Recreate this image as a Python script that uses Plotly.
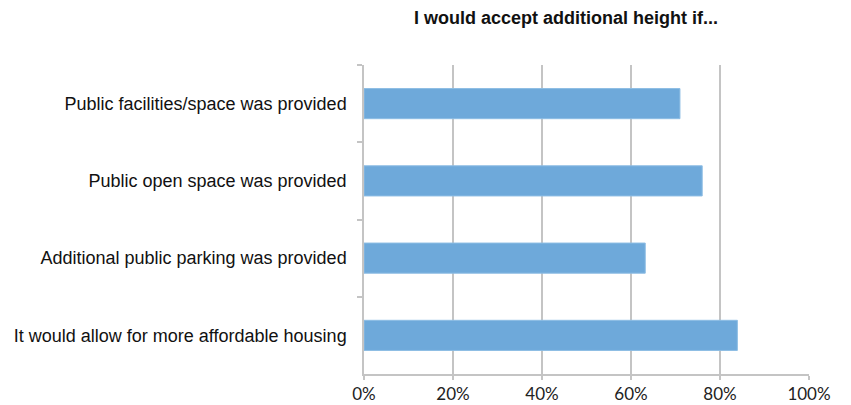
import plotly.graph_objects as go

categories = [
    "Public facilities/space was provided",
    "Public open space was provided",
    "Additional public parking was provided",
    "It would allow for more affordable housing",
]
values = [0.71, 0.76, 0.632, 0.839]
x_tick_vals = [0, 0.2, 0.4, 0.6, 0.8, 1.0]
x_tick_text = ["0%", "20%", "40%", "60%", "80%", "100%"]
title_text = "I would accept additional height if..."

fig = go.Figure(
    go.Bar(
        x=values,
        y=categories,
        orientation="h",
        marker=dict(color="#6EA9DA", line=dict(color="#8DBDE4", width=1)),
        hoverinfo="x+y",
    )
)

fig.update_layout(
    width=851,
    height=405,
    margin=dict(l=364, r=42, t=65, b=31, autoexpand=False),
    paper_bgcolor="white",
    plot_bgcolor="white",
    bargap=0.61,
    showlegend=False,
    title=dict(
        text="<b>" + title_text + "</b>",
        x=566 / 851,
        xanchor="center",
        y=1 - 18 / 405,
        yanchor="middle",
        font=dict(family="Liberation Sans, Arial", size=18, color="#111111"),
    ),
)

fig.update_xaxes(
    range=[0, 1.0],
    tickvals=x_tick_vals,
    ticktext=x_tick_text,
    showgrid=True,
    gridcolor="#C4C4C4",
    gridwidth=1.5,
    zeroline=False,
    showline=True,
    linecolor="#C4C4C4",
    linewidth=1.5,
    ticks="outside",
    ticklen=4,
    tickcolor="#C4C4C4",
    tickwidth=1.5,
    ticklabelstandoff=0,
    automargin=False,
    tickfont=dict(family="Lato, Open Sans", size=17, color="#222222"),
    fixedrange=True,
)

fig.update_yaxes(
    autorange="reversed",
    showgrid=False,
    showline=True,
    linecolor="#C4C4C4",
    linewidth=1.5,
    ticks="outside",
    tickson="boundaries",
    ticklen=5,
    tickcolor="#C4C4C4",
    tickwidth=1.5,
    ticklabelstandoff=12,
    automargin=False,
    tickfont=dict(family="Liberation Sans, Arial", size=18, color="#111111"),
    fixedrange=True,
)

fig.write_html(
    "out.html",
    config={"displayModeBar": False},
    post_script="document.body.style.margin='0';document.body.style.overflow='hidden';",
)
